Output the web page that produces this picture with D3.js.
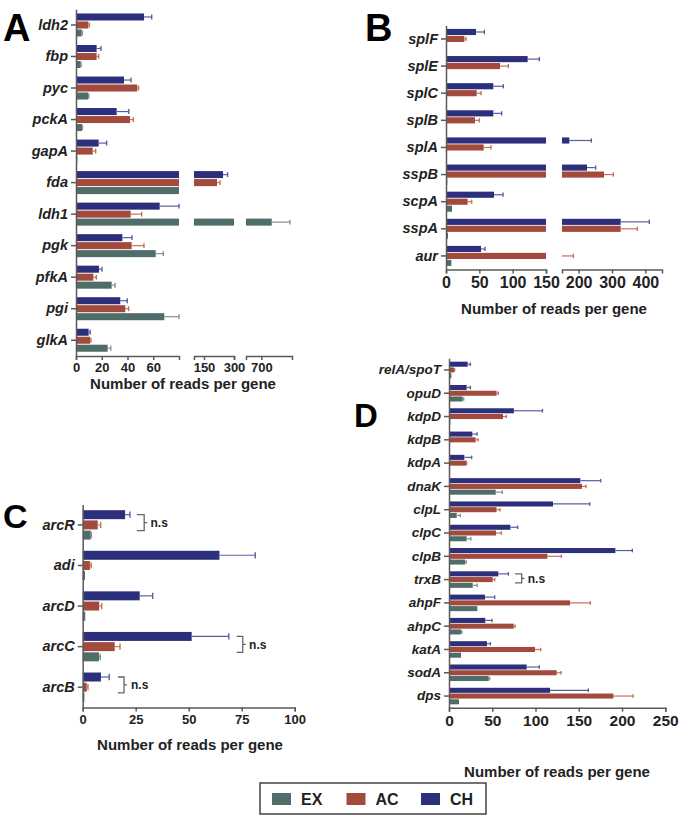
<!DOCTYPE html>
<html><head><meta charset="utf-8">
<script src="https://cdn.jsdelivr.net/npm/d3@7"></script>
<style>
body{margin:0;background:#fff}
svg{display:block}
text{font-family:"Liberation Sans",Arial,Helvetica,sans-serif}
</style>
</head><body>
<svg id="c" width="680" height="818"></svg>
<script>
// ---------- DATA ----------
const series = ["CH", "AC", "EX"];
const seriesColors = ["#2c2f7c", "#a24a3b", "#4f6d69"];
const errColors = ["#5b5e9e", "#c4705e", "#7d9391"];
const legendOrder = ["EX", "AC", "CH"];

// Panel A (values, SD)
const genesA = ["ldh2","fbp","pyc","pckA","gapA","fda","ldh1","pgk","pfkA","pgi","glkA"];
const chA   = [52.8, 16, 37.3, 31.6, 17.6, 245, 65, 36, 17.9, 34.4, 9.8];
const chSdA = [6, 3.4, 5.4, 9.4, 6.2, 23, 15, 7.5, 2.3, 5.4, 1.2];
const acA   = [9.6, 16, 47.6, 42, 13, 215, 42.5, 43.2, 13.5, 38.3, 10.9];
const acSdA = [0.8, 1.6, 1, 2.5, 2.3, 15, 8.5, 9.6, 2.3, 2.6, 0.7];
const exA   = [4.4, 3.6, 9.6, 4.7, 1, 90, 768, 61.9, 27.7, 68.6, 24.6];
const exSdA = [0.6, 0.4, 0.4, 0.3, 0, 0, 119, 5.9, 2.6, 11.4, 2.4];
const ticksA = [[0, 20, 40, 60], [150, 300], [700]];

// Panel B
const genesB = ["splF","splE","splC","splB","splA","sspB","scpA","sspA","aur"];
const chB   = [45, 122.5, 71, 71, 172, 225, 72, 326, 52.5];
const chSdB = [12.5, 17.5, 15, 12.5, 66, 26, 13.5, 86, 6];
const acB   = [27.5, 81, 46, 43.5, 56.5, 276, 32.5, 326, 150];
const acSdB = [2.5, 12.5, 6.5, 6.5, 11, 28, 6, 50, 34];
const exB   = [0, 0, 0, 0, 0, 2, 9, 3, 8];
const exSdB = [0, 0, 0, 0, 0, 0, 0, 0, 0];
const ticksB = [[0, 50, 100, 150], [200, 300, 400]];

// Panel C
const genesC = ["arcR","adi","arcD","arcC","arcB"];
const chC   = [20, 64.5, 26.9, 51.4, 8.6];
const chSdC = [2.3, 16.9, 6.1, 17.5, 3.9];
const acC   = [7.1, 3.4, 7.8, 15.1, 1.9];
const acSdC = [1.4, 0.6, 1.2, 2.5, 0.6];
const exC   = [3.8, 1.1, 1.2, 7.7, 0.8];
const exSdC = [0.3, 0, 0, 0.6, 0];
const ticksC = [[0, 25, 50, 75, 100]];
const nsC = ["arcR", "arcC", "arcB"];

// Panel D
const genesD = ["relA/spoT","opuD","kdpD","kdpB","kdpA","dnaK","clpL","clpC","clpB","trxB","ahpF","ahpC","katA","sodA","dps"];
const chD   = [21.6, 20.4, 75, 27, 17.7, 151.8, 120.2, 70.9, 192.3, 57, 41.6, 42, 43.9, 89.8, 116.8];
const chSdD = [3.1, 4.3, 33, 5.4, 8.5, 23.5, 42.4, 8.5, 19.6, 11.6, 11.2, 7.7, 3.9, 14.6, 44.2];
const acD   = [5.8, 55, 62.4, 30.8, 20, 153.7, 55, 54.3, 113.7, 50.5, 139.9, 74.8, 99.4, 124.5, 190];
const acSdD = [0.7, 2, 3.9, 2.7, 0.5, 4.7, 4, 6.2, 16.2, 2.3, 23.5, 1.5, 6.6, 5, 22.7];
const exD   = [2.7, 15.8, 1.5, 0.8, 0, 54, 8.9, 20.4, 18.5, 27.4, 32.7, 13.9, 13.9, 45.9, 11.6];
const exSdD = [0, 1.2, 0, 0, 0, 7.6, 4.2, 4.9, 1.5, 5.3, 0, 1.1, 0, 1.1, 0];
const ticksD = [[0, 50, 100, 150, 200, 250]];
const nsD = ["trxB"];

const axisTitle = "Number of reads per gene";

// ---------- LAYOUT ----------
const svg = d3.select("#c");
const AX = "#5a5a5a", TXT = "#222";

const panels = [
  { letter: "A", letterPos: [3, 41], letterSize: 38,
    genes: genesA, vals: [chA, acA, exA], sds: [chSdA, acSdA, exSdA],
    yRange: [9.2, 356], pad: 0.27, labelSize: 14.5, tickSize: 13,
    segs: [{domain: [0, 80], range: [76, 179], ticks: ticksA[0]},
           {domain: [100, 300], range: [194, 234], ticks: ticksA[1]},
           {domain: [600, 900], range: [246, 292], ticks: ticksA[2]}],
    title: [183, 389], ns: [], nsX: [] },
  { letter: "B", letterPos: [365, 41], letterSize: 38,
    genes: genesB, vals: [chB, acB, exB], sds: [chSdB, acSdB, exSdB],
    yRange: [25.4, 269.5], pad: 0.26, labelSize: 14.5, tickSize: 16,
    segs: [{domain: [0, 150], range: [446, 546], ticks: ticksB[0]},
           {domain: [150, 450], range: [562, 662], ticks: ticksB[1]}],
    title: [554, 314], ns: [], nsX: [] },
  { letter: "C", letterPos: [3, 528], letterSize: 34,
    genes: genesC, vals: [chC, acC, exC], sds: [chSdC, acSdC, exSdC],
    yRange: [504.6, 707.5], pad: 0.276, labelSize: 14.5, tickSize: 13,
    segs: [{domain: [0, 100], range: [82.7, 294.7], ticks: ticksC[0]}],
    title: [190, 750], ns: nsC, nsX: [[25.6, 29, 32], [72.6, 75.5, 78.5], [16.6, 19.5, 22.8]] },
  { letter: "D", letterPos: [354, 427], letterSize: 33,
    genes: genesD, vals: [chD, acD, exD], sds: [chSdD, acSdD, exSdD],
    yRange: [358.3, 707.7], pad: 0.29, labelSize: 13.5, tickSize: 15.5,
    segs: [{domain: [0, 250], range: [449, 665.3], ticks: ticksD[0]}],
    title: [557, 777], ns: nsD, nsX: [[76.3, 84, 91]] }
];

function drawPanel(p) {
  const g = svg.append("g");
  const y = d3.scaleBand().domain(p.genes).range(p.yRange)
    .paddingInner(p.pad).paddingOuter(p.pad / 2);
  const sub = d3.scaleBand().domain(series).range([0, y.bandwidth()]).paddingInner(0.12);
  const segs = p.segs.map(s => ({ sc: d3.scaleLinear().domain(s.domain).range(s.range), ticks: s.ticks }));
  const h = sub.bandwidth();

  // bars + error bars
  p.genes.forEach((gene, i) => {
    series.forEach((s, k) => {
      const v = p.vals[k][i], sd = p.sds[k][i], e = v + sd;
      const yy = y(gene) + sub(s);
      segs.forEach(seg => {
        const [lo, hi] = seg.sc.domain();
        if (v > lo) {
          g.append("rect")
            .attr("x", seg.sc(lo)).attr("y", yy)
            .attr("width", Math.max(0, seg.sc(Math.min(v, hi)) - seg.sc(lo)))
            .attr("height", h).attr("fill", seriesColors[k]);
        }
        if (sd > 0) {
          const a = Math.max(v, lo), b = Math.min(e, hi);
          if (b > a) {
            g.append("line")
              .attr("x1", seg.sc(a)).attr("x2", seg.sc(b))
              .attr("y1", yy + h / 2).attr("y2", yy + h / 2)
              .attr("stroke", errColors[k]).attr("stroke-width", 1.2);
            if (e <= hi) {
              g.append("line")
                .attr("x1", seg.sc(e)).attr("x2", seg.sc(e))
                .attr("y1", yy + h * 0.15).attr("y2", yy + h * 0.85)
                .attr("stroke", errColors[k]).attr("stroke-width", 1.4);
            }
          }
        }
      });
    });
  });

  // x axes (broken)
  const yb = p.yRange[1];
  segs.forEach(seg => {
    const ax = g.append("g").attr("transform", `translate(0,${yb})`)
      .call(d3.axisBottom(seg.sc).tickValues(seg.ticks).tickSize(4).tickSizeOuter(4).tickPadding(3));
    ax.selectAll("path,line").attr("stroke", AX).attr("stroke-width", 1.5);
    ax.selectAll("text").attr("fill", TXT).attr("font-size", p.tickSize)
      .attr("font-weight", "bold").style("font-family", '"Liberation Sans",Arial,sans-serif');
  });

  // y axis
  const ay = g.append("g").attr("transform", `translate(${segs[0].sc.range()[0]},0)`)
    .call(d3.axisLeft(y).tickSize(5).tickSizeOuter(0).tickPadding(3));
  ay.selectAll("path,line").attr("stroke", AX).attr("stroke-width", 1.5);
  ay.selectAll("text").attr("fill", TXT).attr("font-size", p.labelSize)
    .attr("font-weight", "bold").attr("font-style", "italic")
    .style("font-family", '"Liberation Sans",Arial,sans-serif');

  // n.s brackets
  const sc0 = segs[0].sc;
  p.ns.forEach((gene, j) => {
    const [xl, xv, xt] = p.nsX[j].map(sc0);
    const top = y(gene) + sub("CH") + h / 2;
    const bot = y(gene) + sub("EX") ;
    const mid = (top + bot) / 2;
    g.append("path")
      .attr("d", `M${xl},${top}H${xv}V${bot}H${xl}M${xv},${mid}H${xv + 3}`)
      .attr("fill", "none").attr("stroke", "#666").attr("stroke-width", 1.3);
    g.append("text").attr("x", xt).attr("y", mid + 4.5)
      .attr("font-size", 12).attr("font-weight", "bold").attr("fill", TXT).text("n.s");
  });

  // title
  g.append("text").attr("x", p.title[0]).attr("y", p.title[1]).attr("text-anchor", "middle")
    .attr("font-size", 15).attr("font-weight", "bold").attr("fill", TXT).text(axisTitle);
  // letter
  g.append("text").attr("x", p.letterPos[0]).attr("y", p.letterPos[1])
    .attr("font-size", p.letterSize).attr("font-weight", "bold").attr("fill", "#000").text(p.letter);
}

panels.forEach(drawPanel);

// legend
const lg = svg.append("g");
lg.append("rect").attr("x", 260).attr("y", 783).attr("width", 226).attr("height", 31)
  .attr("fill", "none").attr("stroke", "#444").attr("stroke-width", 1.5);
const lx = d3.scalePoint().domain(legendOrder).range([272, 421]);
legendOrder.forEach(s => {
  const k = series.indexOf(s);
  lg.append("rect").attr("x", lx(s)).attr("y", 793).attr("width", 19).attr("height", 12)
    .attr("fill", seriesColors[k]);
  lg.append("text").attr("x", lx(s) + 29).attr("y", 805).attr("font-size", 16)
    .attr("font-weight", "bold").attr("fill", TXT).text(s);
});
</script>
</body></html>
